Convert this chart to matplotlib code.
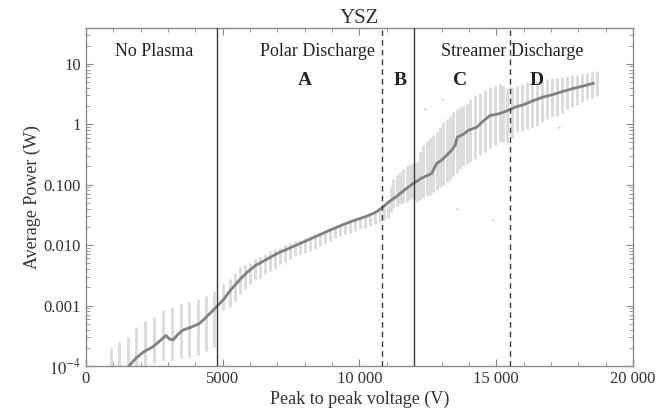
import matplotlib
matplotlib.use("Agg")
import matplotlib.pyplot as plt
from matplotlib.ticker import FixedLocator, MultipleLocator, LogLocator, NullFormatter

plt.rcParams['font.family'] = ['Liberation Serif', 'DejaVu Serif']
plt.rcParams['mathtext.fontset'] = 'stix'

# Scatter columns: voltage, lowest and highest power seen in each column
col_v = [915, 1220, 1525, 1830, 2170, 2500, 2830, 3145, 3475, 3780, 4085, 4390, 4695,
         5020, 5265, 5630, 5995, 6360, 6730, 7095, 7460, 7825, 8190, 8555, 8920, 9285,
         9650, 10020, 10385, 10750, 11040, 11235, 11480, 11725, 11905, 12090, 12335,
         12580, 12820, 13065, 13310, 13555, 13795, 14040, 14405, 14770, 15140, 15380,
         15750, 16115, 16480, 16845, 17210, 17575, 17940, 18305, 18670]
col_low = [5e-5, 5e-5, 5e-5, 5e-5, 5e-5, 1.1e-4, 1.2e-4, 1.25e-4, 1.34e-4, 1.4e-4, 1.5e-4, 1.8e-4, 2.1e-4,
           8.3e-4, 9.3e-4, 1.55e-3, 2.3e-3, 2.9e-3, 3.7e-3, 4.8e-3, 5.9e-3, 7.1e-3, 7.9e-3, 9.5e-3,
           1.17e-2, 1.41e-2, 1.58e-2, 1.82e-2, 2.04e-2, 2.45e-2, 2.8e-2, 4.1e-2, 4.7e-2, 5.2e-2,
           6.0e-2, 5.2e-2, 6.0e-2, 6.8e-2, 8.3e-2, 0.10, 0.12, 0.155, 0.20, 0.24, 0.31, 0.40,
           0.50, 0.50, 0.74, 0.83, 0.95, 1.23, 1.38, 1.78, 2.04, 2.57, 2.95]
col_high = [2.0e-4, 2.5e-4, 3.0e-4, 4.5e-4, 5.6e-4, 6.4e-4, 8.3e-4, 9.4e-4, 1.07e-3, 1.13e-3, 1.3e-3,
            1.45e-3, 1.76e-3, 2.3e-3, 2.75e-3, 4.3e-3, 5.1e-3, 6.6e-3, 7.9e-3, 9.1e-3, 1.1e-2,
            1.23e-2, 1.41e-2, 1.58e-2, 1.82e-2, 2.19e-2, 2.45e-2, 2.82e-2, 3.16e-2, 3.8e-2, 4.4e-2,
            0.126, 0.162, 0.20, 0.22, 0.24, 0.45, 0.58, 0.74, 1.07, 1.38, 1.78, 2.0, 2.6, 3.3,
            4.1, 4.6, 4.0, 4.3, 4.9, 5.2, 5.5, 5.9, 6.3, 6.6, 7.1, 7.6]

# extra columns between the ones above (denser part of the sweep)
col2_v = [5445, 5810, 6180, 6545, 6910, 7280, 7640, 8010, 8370, 8740, 9100, 9470, 9835,
          10200, 10570, 10900, 11140, 11360, 11600, 11815, 12000, 12210, 12460, 12700,
          12940, 13190, 13430, 13675, 13920, 14220, 14590, 14955, 15260, 15565, 15930,
          16300, 16660, 17030, 17390, 17760, 18120, 18490]
col2_low = [1.2e-3, 1.9e-3, 2.6e-3, 3.3e-3, 4.2e-3, 5.3e-3, 6.5e-3, 7.5e-3, 8.7e-3, 1.05e-2,
            1.29e-2, 1.5e-2, 1.7e-2, 1.93e-2, 2.25e-2, 2.6e-2, 3.5e-2, 4.4e-2, 5.0e-2, 5.6e-2,
            5.6e-2, 5.6e-2, 6.4e-2, 7.5e-2, 9.0e-2, 0.11, 0.14, 0.18, 0.22, 0.27, 0.35, 0.45,
            0.50, 0.60, 0.78, 0.90, 1.1, 1.3, 1.55, 1.9, 2.3, 2.75]
col2_high = [3.5e-3, 4.7e-3, 5.8e-3, 7.2e-3, 8.5e-3, 1.0e-2, 1.16e-2, 1.32e-2, 1.5e-2, 1.7e-2,
             2.0e-2, 2.3e-2, 2.6e-2, 3.0e-2, 3.5e-2, 4.1e-2, 9e-2, 0.145, 0.18, 0.21, 0.23,
             0.35, 0.52, 0.66, 0.90, 1.2, 1.6, 1.9, 2.15, 2.9, 3.7, 4.3, 4.3, 4.1, 4.6, 5.0,
             5.3, 5.7, 6.1, 6.4, 6.8, 7.3]

# stray points outside the columns
out_v = [13555, 14885, 12400, 13000, 17300]
out_p = [0.040, 0.026, 1.8, 2.6, 0.9]

# running mean
mean_v = [1450, 1570, 1830, 2100, 2440, 2700, 2925, 3050, 3190, 3350, 3535, 3800, 4140, 4390,
          4750, 5060, 5265, 5600, 5875, 6200, 6605, 7000, 7460, 8000, 8435, 8900, 9410, 9850,
          10260, 10600, 10870, 11100, 11360, 11650, 11970, 12300, 12640, 12820, 13005, 13200,
          13370, 13500, 13575, 13800, 13980, 14285, 14500, 14770, 15000, 15260, 15500, 15750,
          16000, 16355, 16700, 17085, 17450, 17815, 18200, 18550]
mean_p = [8e-5, 1.0e-4, 1.35e-4, 1.7e-4, 2.07e-4, 2.6e-4, 3.2e-4, 2.8e-4, 2.7e-4, 3.3e-4,
          3.9e-4, 4.3e-4, 5.0e-4, 6.4e-4, 9.3e-4, 1.3e-3, 1.76e-3, 2.6e-3, 3.5e-3, 4.6e-3,
          5.8e-3, 7.3e-3, 9.0e-3, 1.15e-2, 1.41e-2, 1.75e-2, 2.19e-2, 2.6e-2, 3.0e-2, 3.5e-2,
          4.3e-2, 5.3e-2, 6.4e-2, 8.2e-2, 0.105, 0.13, 0.153, 0.224, 0.254, 0.31, 0.37, 0.45,
          0.61, 0.68, 0.79, 0.89, 1.1, 1.39, 1.45, 1.57, 1.75, 1.95, 2.1, 2.45, 2.8, 3.1, 3.5,
          3.9, 4.3, 4.75]

solid_lines = [4790, 11990]
dashed_lines = [10810, 15500]

regions = ["No Plasma", "Polar Discharge", "Streamer Discharge"]
region_v = [2490, 8460, 15590]
letters = ["A", "B", "C", "D"]
letter_v = [8010, 11480, 13675, 16480]

ytick_vals = [1e-4, 1e-3, 1e-2, 1e-1, 1, 10]
ytick_labels = [r"$10^{-4}$", "0.001", "0.010", "0.100", "1", "10"]
xtick_vals = [0, 5000, 10000, 15000, 20000]
xtick_labels = ["0", "5000", "10 000", "15 000", "20 000"]

frame = "#8a8a8a"
txt = "#333333"

fig = plt.figure(figsize=(6.68, 4.17), dpi=100)
ax = fig.add_axes([0.1287, 0.1223, 0.8189, 0.8106])

ax.vlines(col_v, col_low, col_high, colors="#dcdcdc", linewidth=2.1, zorder=1)
ax.vlines(col2_v, col2_low, col2_high, colors="#dcdcdc", linewidth=2.1, zorder=1)
ax.scatter(out_v, out_p, s=3, color="#d0d0d0", zorder=1, linewidths=0)
ax.plot(mean_v, mean_p, color="#808080", linewidth=2.0, zorder=2)

for v in solid_lines:
    ax.axvline(v, color="#3c3c3c", linewidth=1.0, zorder=3)
for v in dashed_lines:
    ax.axvline(v, color="#3c3c3c", linewidth=1.0, linestyle=(0, (4, 3)), zorder=3)

ax.set_yscale("log")
ax.set_xlim(0, 20000)
ax.set_ylim(1e-4, 39)

for s, v in zip(regions, region_v):
    ax.text(v, 0.929, s, transform=ax.get_xaxis_transform(), ha="center", va="center",
            fontsize=13, color="#222222")
for s, v in zip(letters, letter_v):
    ax.text(v, 0.846, s, transform=ax.get_xaxis_transform(), ha="center", va="center",
            fontsize=14, fontweight="bold", color="#222222")

ax.set_title("YSZ", fontsize=15, color=txt, pad=3)
ax.set_xlabel("Peak to peak voltage (V)", fontsize=13, color=txt, labelpad=3)
ax.set_ylabel("Average Power (W)", fontsize=13, color=txt, labelpad=2)

ax.xaxis.set_major_locator(FixedLocator(xtick_vals))
ax.set_xticklabels(xtick_labels)
ax.xaxis.set_minor_locator(MultipleLocator(1000))
ax.yaxis.set_major_locator(FixedLocator(ytick_vals))
ax.set_yticklabels(ytick_labels)
ax.yaxis.set_minor_locator(LogLocator(base=10, subs=range(2, 10)))
ax.yaxis.set_minor_formatter(NullFormatter())

ax.tick_params(which="both", direction="in", top=True, right=True, colors=frame,
               labelcolor=txt, labelsize=12)
ax.tick_params(which="major", length=5, width=0.8)
ax.tick_params(which="minor", length=3, width=0.6)
for sp in ax.spines.values():
    sp.set_color(frame)
    sp.set_linewidth(1.0)

fig.savefig("out.png", dpi=100)
